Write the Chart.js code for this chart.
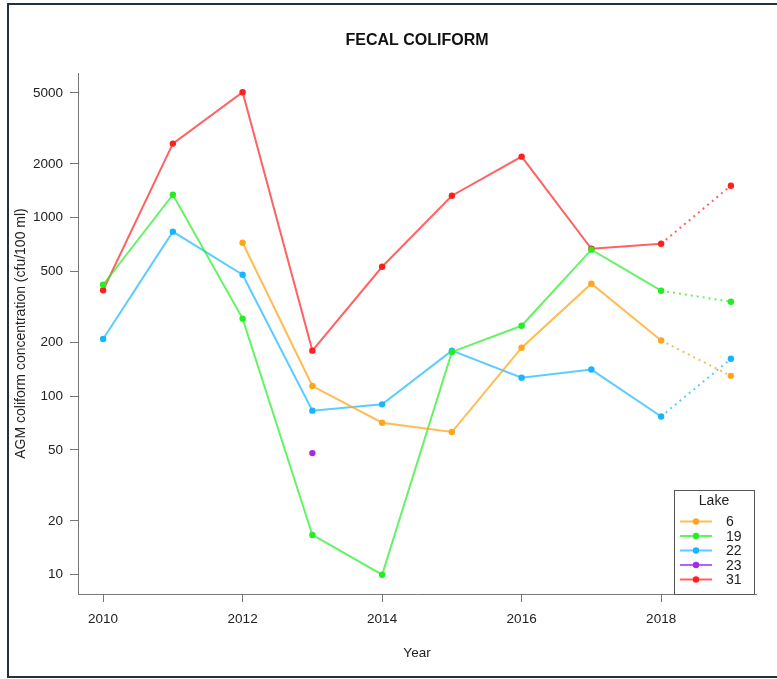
<!DOCTYPE html>
<html lang="en">
<head>
    <meta charset="UTF-8">
    <title>Fecal Coliform</title>
    <script src="https://cdn.jsdelivr.net/npm/chart.js"></script>
    <style>
        body {
            margin: 0;
            background-color: #fff;
            overflow: hidden;
        }

        #chart {
            position: absolute;
            left: 0;
            top: 0;
        }

        /* dark frame round the picture */
        .frame {
            position: absolute;
            left: 7px;
            top: 3px;
            width: 780px;
            height: 671px;
            border: 2px solid #22313b;
            pointer-events: none;
        }
    </style>
</head>
<body>
    <canvas id="chart" width="777" height="679"></canvas>
    <div class="frame"></div>

    <script>
        const years = [2010, 2011, 2012, 2013, 2014, 2015, 2016, 2017, 2018, 2019];
        const lake6 = [null, null, 724, 114, 71, 63, 187, 427, 205, 130];
        const lake19 = [421, 1345, 272, 16.7, 10, 177, 248, 662, 390, 338];
        const lake22 = [209, 835, 479, 83, 90, 180, 127, 141, 77, 162];
        const lake23 = [null, null, null, 48, null, null, null, null, null, null];
        const lake31 = [392, 2600, 5040, 180, 531, 1328, 2197, 670, 715, 1511];

        const lakeNames = ['6', '19', '22', '23', '31'];
        const lakeValues = [lake6, lake19, lake22, lake23, lake31];
        const pointColors = ['#ffa51c', '#22ee22', '#16b6ff', '#a629f0', '#ff1f1f'];
        const lineColors = ['rgba(255,165,28,0.75)', 'rgba(34,238,34,0.7)', 'rgba(22,182,255,0.7)',
                            'rgba(166,41,240,0.75)', 'rgba(255,31,31,0.7)'];

        const xTicks = [2010, 2012, 2014, 2016, 2018];
        const yTicks = [10, 20, 50, 100, 200, 500, 1000, 2000, 5000];

        const fontFamily = '"Liberation Sans", Arial, sans-serif';

        // R-style 4% extension of the data range
        const allValues = lakeValues.flat().filter(v => v !== null);
        const logLo = Math.log10(Math.min(...allValues));
        const logHi = Math.log10(Math.max(...allValues));
        const logPad = (logHi - logLo) * 0.04;
        const xPad = (years[years.length - 1] - years[0]) * 0.04;

        const datasets = lakeNames.map((name, i) => ({
            label: name,
            data: years.map((yr, j) => ({ x: yr, y: lakeValues[i][j] })),
            borderColor: lineColors[i],
            backgroundColor: pointColors[i],
            pointBackgroundColor: pointColors[i],
            pointBorderWidth: 0,
            pointRadius: 3.2,
            borderWidth: 2,
            spanGaps: false,
            segment: {
                // the last year is drawn dotted
                borderDash: ctx => ctx.p1DataIndex === years.length - 1 ? [2, 4] : undefined
            }
        }));

        // legend box in the bottom right corner of the plot
        const lakeLegend = {
            id: 'lakeLegend',
            afterDraw(chart) {
                const { ctx, chartArea } = chart;
                const w = 80, h = 104;
                const left = chartArea.right - w - 2;
                const top = chartArea.bottom - h;
                ctx.save();
                ctx.fillStyle = '#fff';
                ctx.fillRect(left, top, w, h);
                ctx.strokeStyle = '#555';
                ctx.lineWidth = 1;
                ctx.strokeRect(left + 0.5, top + 0.5, w, h);

                ctx.fillStyle = '#222';
                ctx.font = '14px ' + fontFamily;
                ctx.textBaseline = 'middle';
                ctx.textAlign = 'center';
                ctx.fillText('Lake', left + w / 2, top + 11.5);

                ctx.textAlign = 'left';
                chart.data.datasets.forEach((ds, i) => {
                    const y = top + 31.5 + i * 14.5;
                    ctx.strokeStyle = ds.borderColor;
                    ctx.lineWidth = 2;
                    ctx.beginPath();
                    ctx.moveTo(left + 6, y);
                    ctx.lineTo(left + 38, y);
                    ctx.stroke();
                    ctx.fillStyle = ds.pointBackgroundColor;
                    ctx.beginPath();
                    ctx.arc(left + 22, y, 3.2, 0, Math.PI * 2);
                    ctx.fill();
                    ctx.fillStyle = '#222';
                    ctx.fillText(ds.label, left + 52, y + 1);
                });
                ctx.restore();
            }
        };

        new Chart(document.getElementById('chart'), {
            type: 'line',
            data: { datasets: datasets },
            options: {
                responsive: false,
                animation: false,
                layout: { padding: { left: 0, right: 21, top: 0, bottom: 0 } },
                plugins: {
                    legend: { display: false },
                    tooltip: { enabled: false },
                    title: {
                        display: true,
                        text: 'FECAL COLIFORM',
                        fullSize: false,
                        color: '#111',
                        font: { family: fontFamily, size: 16, weight: 'bold' },
                        padding: { top: 31, bottom: 22.8 }
                    }
                },
                scales: {
                    x: {
                        type: 'linear',
                        min: years[0] - xPad,
                        max: years[years.length - 1] + xPad,
                        afterBuildTicks: scale => {
                            scale.ticks = xTicks.map(v => ({ value: v }));
                        },
                        afterFit: scale => { scale.height = 85; },
                        ticks: {
                            color: '#222',
                            padding: 9,
                            font: { family: fontFamily, size: 13.5 },
                            callback: v => String(v)
                        },
                        grid: { drawOnChartArea: false, drawTicks: true, tickLength: 8, color: '#777' },
                        border: { display: true, color: '#777', width: 1 },
                        title: {
                            display: true,
                            text: 'Year',
                            color: '#222',
                            font: { family: fontFamily, size: 13.5 },
                            padding: { top: 0, bottom: 18 }
                        }
                    },
                    y: {
                        type: 'logarithmic',
                        min: Math.pow(10, logLo - logPad),
                        max: Math.pow(10, logHi + logPad),
                        afterBuildTicks: scale => {
                            scale.ticks = yTicks.map(v => ({ value: v }));
                        },
                        afterFit: scale => { scale.width = 78; },
                        ticks: {
                            color: '#222',
                            padding: 7,
                            font: { family: fontFamily, size: 13.5 },
                            callback: v => String(v)
                        },
                        grid: { drawOnChartArea: false, drawTicks: true, tickLength: 8, color: '#777' },
                        border: { display: true, color: '#777', width: 1 },
                        title: {
                            display: true,
                            text: 'AGM coliform concentration (cfu/100 ml)',
                            color: '#222',
                            font: { family: fontFamily, size: 14 },
                            padding: { top: 12.5, bottom: 0 }
                        }
                    }
                }
            },
            plugins: [lakeLegend]
        });
    </script>
</body>
</html>
